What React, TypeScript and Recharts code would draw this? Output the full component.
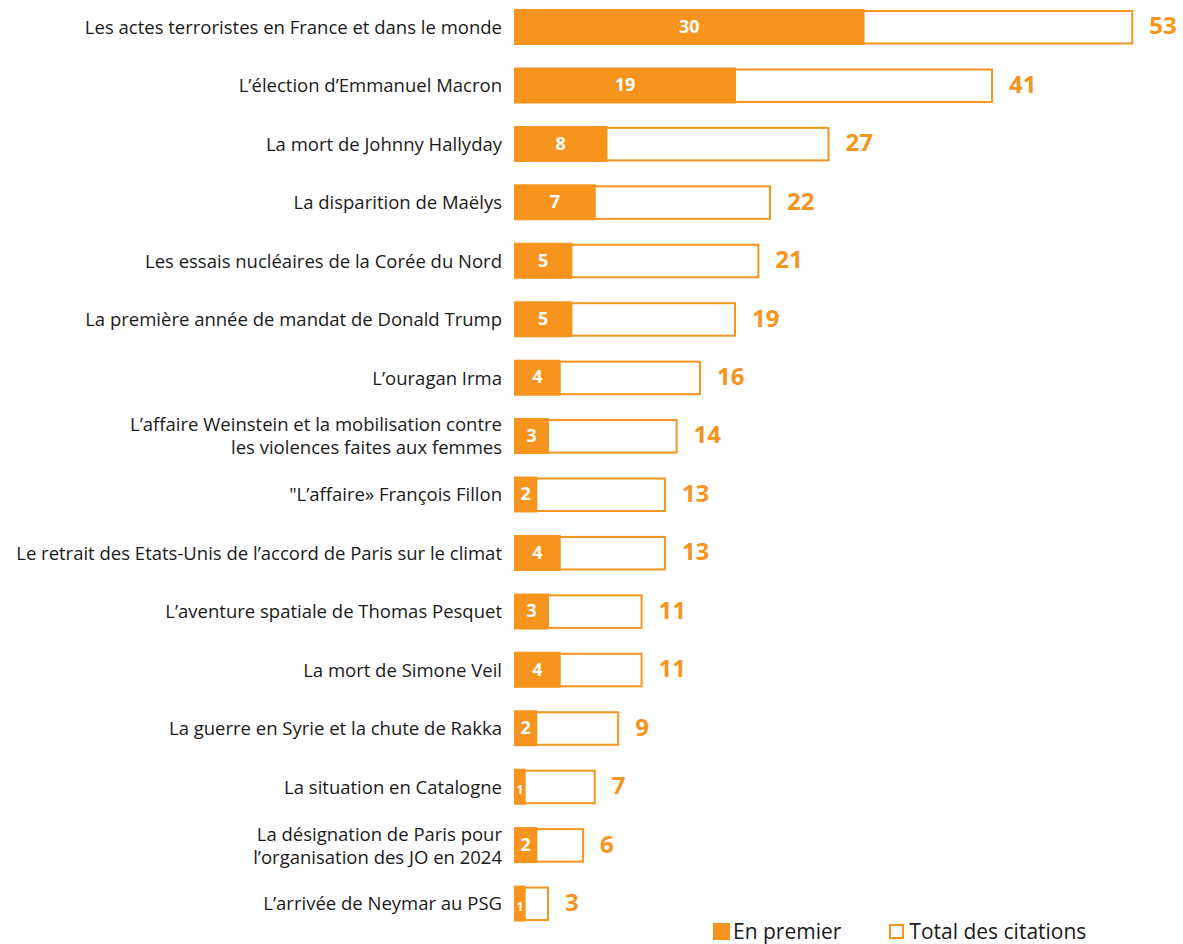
import React from "react";
import { BarChart, Bar, XAxis, YAxis, LabelList } from "recharts";

const categories = [
  "Les actes terroristes en France et dans le monde",
  "L’élection d’Emmanuel Macron",
  "La mort de Johnny Hallyday",
  "La disparition de Maëlys",
  "Les essais nucléaires de la Corée du Nord",
  "La première année de mandat de Donald Trump",
  "L’ouragan Irma",
  "L’affaire Weinstein et la mobilisation contre\nles violences faites aux femmes",
  "\"L’affaire» François Fillon",
  "Le retrait des Etats-Unis de l’accord de Paris sur le climat",
  "L’aventure spatiale de Thomas Pesquet",
  "La mort de Simone Veil",
  "La guerre en Syrie et la chute de Rakka",
  "La situation en Catalogne",
  "La désignation de Paris pour\nl’organisation des JO en 2024",
  "L’arrivée de Neymar au PSG",
];
const enPremier = [30, 19, 8, 7, 5, 5, 4, 3, 2, 4, 3, 4, 2, 1, 2, 1];
const totalCitations = [53, 41, 27, 22, 21, 19, 16, 14, 13, 13, 11, 11, 9, 7, 6, 3];
const legendLabels = ["En premier", "Total des citations"];

const data = categories.map((name, i) => ({
  name,
  premier: enPremier[i],
  total: totalCitations[i],
}));

const ORANGE = "#F7941E";
const FONT = "'Open Sans', 'Noto Sans', sans-serif";

const CategoryTick = (props: any) => {
  const { x, y, payload } = props;
  const lines = String(payload.value).split("\n");
  const lh = 23;
  const start = -((lines.length - 1) * lh) / 2;
  return (
    <text x={x} y={y} textAnchor="end" fill="#1a1a1a" fontSize={18.5} fontFamily={FONT}>
      {lines.map((l, i) => (
        <tspan key={i} x={x} y={y + start + i * lh} dy="0.36em">
          {l}
        </tspan>
      ))}
    </text>
  );
};

const TotalShape = (props: any) => {
  const { x, y, width, height } = props;
  return (
    <rect
      x={x + 1}
      y={y + 2}
      width={Math.max(width - 2, 0)}
      height={height - 3.5}
      fill="#fff"
      stroke={ORANGE}
      strokeWidth={2}
    />
  );
};

const PremierLabel = (props: any) => {
  const { x, y, width, height, value } = props;
  const small = value <= 1;
  return (
    <text
      x={x + width / 2}
      y={y + height / 2 + (small ? 4 : 1)}
      textAnchor="middle"
      dominantBaseline="middle"
      fill="#fff"
      fontWeight={700}
      fontSize={small ? 12 : 18}
      fontFamily={FONT}
    >
      {value}
    </text>
  );
};

const TotalLabel = (props: any) => {
  const { x, y, width, height, value } = props;
  return (
    <text
      x={x + width + 16}
      y={y + height / 2 + 1}
      textAnchor="start"
      dominantBaseline="middle"
      fill={ORANGE}
      fontWeight={700}
      fontSize={24}
      fontFamily={FONT}
    >
      {value}
    </text>
  );
};

export default function App() {
  return (
    <div style={{ position: "absolute", left: 0, top: -2, width: 1183, height: 946 }}>
      <BarChart
        width={1183}
        height={946}
        data={data}
        layout="vertical"
        margin={{ top: 0, right: 3, bottom: 11, left: 0 }}
        barSize={36}
        barGap={-36}
      >
        <XAxis type="number" domain={[0, 57]} hide />
        <YAxis
          type="category"
          dataKey="name"
          width={514}
          axisLine={false}
          tickLine={false}
          tickSize={0}
          tickMargin={12}
          interval={0}
          tick={<CategoryTick />}
        />
        <Bar dataKey="total" name={legendLabels[1]} shape={<TotalShape />} isAnimationActive={false}>
          <LabelList dataKey="total" content={<TotalLabel />} />
        </Bar>
        <Bar dataKey="premier" name={legendLabels[0]} fill={ORANGE} isAnimationActive={false}>
          <LabelList dataKey="premier" content={<PremierLabel />} />
        </Bar>
      </BarChart>
      <div
        style={{
          position: "absolute",
          left: 713,
          top: 923,
          display: "flex",
          alignItems: "center",
          fontFamily: FONT,
          fontSize: 21,
          lineHeight: "21px",
          color: "#1a1a1a",
          whiteSpace: "nowrap",
        }}
      >
        <span style={{ display: "inline-block", width: 17, height: 17, background: ORANGE, marginRight: 3 }} />
        <span style={{ marginRight: 48 }}>{legendLabels[0]}</span>
        <span
          style={{
            display: "inline-block",
            width: 11,
            height: 11,
            border: `2px solid ${ORANGE}`,
            background: "#fff",
            marginRight: 5,
          }}
        />
        <span>{legendLabels[1]}</span>
      </div>
    </div>
  );
}
